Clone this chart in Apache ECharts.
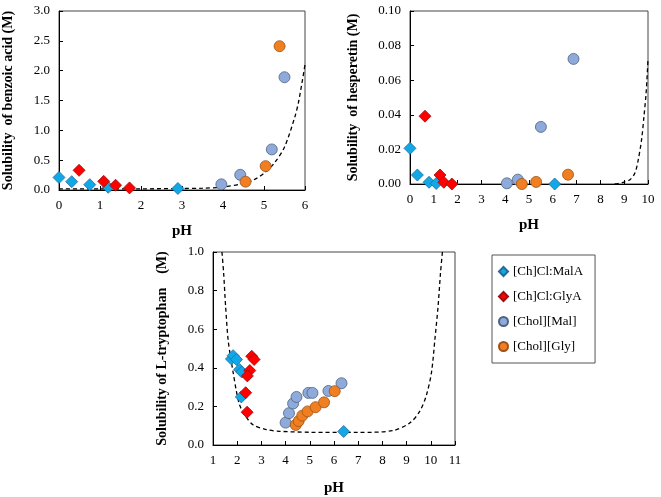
<!DOCTYPE html>
<html><head><meta charset="utf-8">
<script src="https://cdn.jsdelivr.net/npm/echarts@6/dist/echarts.min.js"></script>
<style>html,body{margin:0;padding:0;background:#fff}#c{width:661px;height:497px}</style>
</head><body><div id="c"></div>
<script>
// Benzoic acid
var bzMalA = [[0,0.21],[0.31,0.14],[0.75,0.09],[1.2,0.045],[2.9,0.025]];
var bzGlyA = [[0.49,0.33],[1.09,0.145],[1.38,0.08],[1.72,0.035]];
var bzCholMal = [[3.96,0.095],[4.42,0.255],[5.19,0.68],[5.5,1.89]];
var bzCholGly = [[4.55,0.14],[5.04,0.4],[5.38,2.41]];
var bzCurve = [[0,0.02],[1,0.02],[2,0.02],[3,0.025],[3.5,0.03],[4,0.05],[4.5,0.11],[4.75,0.17],[5,0.28],[5.25,0.45],[5.5,0.72],[5.75,1.22],[5.85,1.5],[6,2.1]];
// Hesperetin
var hsMalA = [[0,0.0206],[0.31,0.0052],[0.8,0.001],[1.1,0.0003],[6.08,0]];
var hsGlyA = [[0.63,0.0392],[1.26,0.0052],[1.42,0.001],[1.76,0]];
var hsCholMal = [[4.07,0.0004],[4.53,0.0025],[5.5,0.033],[6.87,0.0723]];
var hsCholGly = [[4.7,0],[5.3,0.0012],[6.64,0.0054]];
var hsCurve = [[8.6,0],[8.96,0.001],[9.24,0.0025],[9.45,0.0063],[9.59,0.014],[9.73,0.0256],[9.83,0.039],[9.92,0.0525],[10,0.072]];
// L-tryptophan
var trMalA = [[1.76,0.446],[1.83,0.463],[1.97,0.443],[2.1,0.391],[2.19,0.378],[2.17,0.249],[6.4,0.07]];
var trGlyA = [[2.6,0.46],[2.7,0.443],[2.52,0.386],[2.42,0.358],[2.35,0.271],[2.41,0.17]];
var trCholMal = [[4.0,0.116],[4.14,0.165],[4.31,0.215],[4.45,0.249],[4.94,0.27],[5.11,0.27],[5.77,0.28],[6.31,0.32]];
var trCholGly = [[4.42,0.104],[4.54,0.124],[4.69,0.152],[4.91,0.174],[5.24,0.196],[5.59,0.221],[6.03,0.279]];
var trCurve = [[1.37,1.0],[1.44,0.89],[1.52,0.72],[1.62,0.55],[1.72,0.46],[1.83,0.378],[1.97,0.276],[2.1,0.207],[2.31,0.156],[2.65,0.105],[3.2,0.08],[3.76,0.071],[5,0.066],[7,0.065],[8.44,0.075],[9.13,0.114],[9.54,0.174],[9.82,0.259],[10.03,0.378],[10.17,0.548],[10.3,0.718],[10.4,0.89],[10.48,1.0]];

var seriesNames = ['[Ch]Cl:MalA','[Ch]Cl:GlyA','[Chol][Mal]','[Chol][Gly]'];
var xNames = ['pH','pH','pH'];
var yNames = ['Solubility  of benzoic acid (M)','Solubility  of hesperetin (M)','Solubility of L-tryptophan    (M)'];

var FONT = '"Liberation Serif","Times New Roman",serif';
var styles = [
  {symbol:'diamond', size:12, color:'#12a8e8', border:'#1f6d99'},
  {symbol:'diamond', size:12, color:'#ff0000', border:'#9a1010'},
  {symbol:'circle', size:11, color:'#8eaadb', border:'#4f6282'},
  {symbol:'circle', size:11, color:'#f07f22', border:'#9c5218'}
];

function xAx(gi, min, max, gap){
  return {gridIndex:gi, type:'value', min:min, max:max, interval:1,
    name:xNames[gi], nameLocation:'middle', nameGap:gap,
    nameTextStyle:{fontFamily:FONT, fontWeight:'bold', fontSize:15, color:'#000'},
    axisLine:{show:true, onZero:false, lineStyle:{color:'#000', width:1}},
    axisTick:{show:true, inside:true, length:4, lineStyle:{color:'#000'}},
    axisLabel:{fontFamily:FONT, fontSize:13, color:'#000', margin:9},
    splitLine:{show:false}};
}
function yAx(gi, min, max, interval, dec, gap){
  return {gridIndex:gi, type:'value', min:min, max:max, interval:interval,
    name:yNames[gi], nameLocation:'middle', nameGap:gap,
    nameTextStyle:{fontFamily:FONT, fontWeight:'bold', fontSize:14, color:'#000'},
    axisLine:{show:true, onZero:false, lineStyle:{color:'#000', width:1}},
    axisTick:{show:true, inside:true, length:4, lineStyle:{color:'#000'}},
    axisLabel:{fontFamily:FONT, fontSize:13, color:'#000', margin:9,
      formatter:function(v){return v.toFixed(dec);}},
    splitLine:{show:false}};
}

var dataSets = [
  [bzMalA,bzGlyA,bzCholMal,bzCholGly],
  [hsMalA,hsGlyA,hsCholMal,hsCholGly],
  [trMalA,trGlyA,trCholMal,trCholGly]
];
var curves = [bzCurve, hsCurve, trCurve];

var series = [];
for (var g=0; g<3; g++){
  series.push({name:'curve'+g, type:'line', xAxisIndex:g, yAxisIndex:g, data:curves[g],
    smooth:0.3, symbol:'none', silent:true, clip:true,
    lineStyle:{color:'#000', width:1.3, type:[4,3]}, z:1});
  for (var s=0; s<4; s++){
    var st = styles[s];
    series.push({name:seriesNames[s], type:'scatter', xAxisIndex:g, yAxisIndex:g,
      data:dataSets[g][s], symbol:st.symbol, symbolSize:st.size,
      itemStyle:{color:st.color, borderColor:st.border, borderWidth:0.8, opacity:1}, z:3});
  }
}

var chart = echarts.init(document.getElementById('c'), null, {renderer:'canvas'});
chart.setOption({
  animation:false,
  backgroundColor:'#fff',
  grid:[
    {left:56, top:11, width:249, height:179, show:true, borderColor:'#444', borderWidth:1, backgroundColor:'transparent'},
    {left:410, top:11, width:238, height:173, show:true, borderColor:'#444', borderWidth:1, backgroundColor:'transparent'},
    {left:213, top:252, width:242, height:195, show:true, borderColor:'#444', borderWidth:1, backgroundColor:'transparent'}
  ],
  xAxis:[xAx(0,0,6,34), xAx(1,0,10,34), xAx(2,1,11,36)],
  yAxis:[yAx(0,0,3,0.5,1,44), yAx(1,0,0.1,0.02,2,50), yAx(2,0,1,0.2,1,44)],
  legend:{data:seriesNames.map(function(n,i){return {name:n, icon:styles[i].symbol};}),
    orient:'vertical', left:492, top:255,
    itemWidth:9, itemHeight:9, itemGap:12,
    padding:[10,12,10,6],
    borderColor:'#555', borderWidth:1, backgroundColor:'#fff',
    textStyle:{fontFamily:FONT, fontSize:13, color:'#000', lineHeight:13},
    selectedMode:false},
  series:series
});
</script></body></html>
